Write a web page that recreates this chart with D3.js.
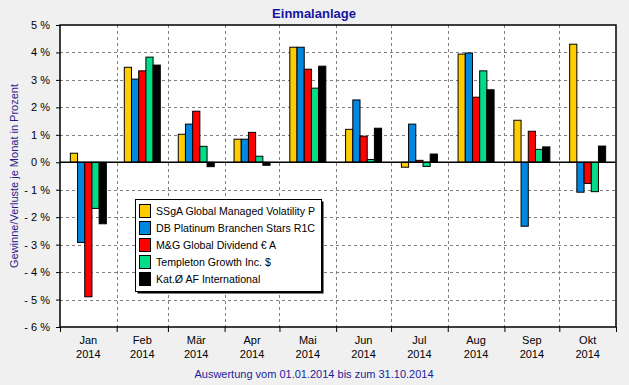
<!DOCTYPE html>
<html><head><meta charset="utf-8">
<script src="https://cdn.jsdelivr.net/npm/d3@7"></script>
<style>body{margin:0;background:#f0f0f0;}svg{display:block;font-family:"Liberation Sans",Arial,sans-serif;}</style>
</head><body>
<script>
const months = ["Jan","Feb","Mär","Apr","Mai","Jun","Jul","Aug","Sep","Okt"];
const monthStarts = ["2014-01-01","2014-02-01","2014-03-01","2014-04-01","2014-05-01","2014-06-01","2014-07-01","2014-08-01","2014-09-01","2014-10-01","2014-11-01"];
const seriesNames = ["SSgA Global Managed Volatility P","DB Platinum Branchen Stars R1C","M&G Global Dividend € A","Templeton Growth Inc. $","Kat.Ø AF International"];
const seriesColors = ["#ffcc00","#0088e0","#ff0000","#00dd88","#000000"];
const ssga      = [0.33, 3.46, 1.02, 0.84, 4.19, 1.20, -0.18, 3.94, 1.53, 4.30];
const dbPlat    = [-2.92, 3.03, 1.39, 0.84, 4.19, 2.27, 1.39, 3.98, -2.33, -1.09];
const mgDiv     = [-4.90, 3.33, 1.86, 1.09, 3.39, 0.95, 0.07, 2.37, 1.13, -0.77];
const templeton = [-1.68, 3.83, 0.58, 0.22, 2.70, 0.10, -0.15, 3.33, 0.47, -1.07];
const katAF     = [-2.24, 3.54, -0.16, -0.11, 3.50, 1.24, 0.30, 2.64, 0.56, 0.59];
const seriesValues = [ssga, dbPlat, mgDiv, templeton, katAF];
const yTicks = [5,4,3,2,1,0,-1,-2,-3,-4,-5,-6];

const W = 629, H = 385;
const L = 60, R = 616, T = 25, B = 327;
const svg = d3.select("body").append("svg").attr("width", W).attr("height", H);
const parse = d3.utcParse("%Y-%m-%d");
const dates = monthStarts.map(parse);
const x = d3.scaleUtc().domain([dates[0], dates[dates.length-1]]).range([L, R]);
const y = d3.scaleLinear().domain([-6, 5]).range([B, T]);

svg.append("rect").attr("x", L).attr("y", T).attr("width", R-L).attr("height", B-T).attr("fill", "#fff");

// grid
const g = svg.append("g");
g.selectAll(".hg").data(yTicks.filter(d => d !== 0 && d !== 5 && d !== -6)).enter().append("line")
  .attr("x1", L).attr("x2", R).attr("y1", d => Math.round(y(d))+0.5).attr("y2", d => Math.round(y(d))+0.5)
  .attr("stroke", "#808080").attr("stroke-dasharray", "3,3");
g.selectAll(".vg").data(dates.slice(1, -1)).enter().append("line")
  .attr("x1", d => Math.round(x(d))+0.5).attr("x2", d => Math.round(x(d))+0.5).attr("y1", T).attr("y2", B)
  .attr("stroke", "#808080").attr("stroke-dasharray", "3,3");

// bars
const barW = 7.2;
const n = seriesValues.length;
seriesValues.forEach((vals, si) => {
  svg.append("g").selectAll("rect").data(vals).enter().append("rect")
    .attr("x", (d, i) => {
      const c = (x(dates[i]) + x(dates[i+1])) / 2;
      return c - n*barW/2 + si*barW;
    })
    .attr("width", barW)
    .attr("y", d => y(Math.max(0, d)))
    .attr("height", d => Math.abs(y(d) - y(0)))
    .attr("fill", seriesColors[si]).attr("stroke", "#000").attr("stroke-width", 1);
});

// zero line
svg.append("line").attr("x1", L).attr("x2", R).attr("y1", y(0)).attr("y2", y(0)).attr("stroke", "#000").attr("stroke-width", 1.5);

// frame
svg.append("rect").attr("x", L).attr("y", T).attr("width", R-L).attr("height", B-T)
  .attr("fill", "none").attr("stroke", "#000").attr("stroke-width", 1.5);

// y axis
const yAxis = d3.axisLeft(y).tickValues(yTicks).tickSize(4).tickPadding(6)
  .tickFormat(d => (d < 0 ? "- " + Math.abs(d) : d) + " %");
const ya = svg.append("g").attr("transform", `translate(${L},0)`).call(yAxis);
ya.select(".domain").remove();
ya.selectAll("text").attr("font-size", 11).attr("fill", "#000").attr("font-family", "Liberation Sans, Arial, sans-serif");

// x axis
const xAxis = d3.axisBottom(x).tickValues(dates).tickSize(5).tickFormat("");
const xa = svg.append("g").attr("transform", `translate(0,${B})`).call(xAxis);
xa.select(".domain").remove();
const ml = svg.append("g");
months.forEach((m, i) => {
  const c = (x(dates[i]) + x(dates[i+1])) / 2;
  const t = ml.append("text").attr("x", c).attr("text-anchor", "middle").attr("font-size", 11).attr("fill", "#000");
  t.append("tspan").attr("x", c).attr("y", 344).text(m);
  t.append("tspan").attr("x", c).attr("y", 358).text("2014");
});

// titles
svg.append("text").attr("x", 314).attr("y", 18).attr("text-anchor", "middle")
  .attr("font-size", 13).attr("font-weight", "bold").attr("fill", "#1414a0").text("Einmalanlage");
svg.append("text").attr("x", 314).attr("y", 378).attr("text-anchor", "middle")
  .attr("font-size", 11).attr("fill", "#1c1c9c").text("Auswertung vom 01.01.2014 bis zum 31.10.2014");
svg.append("text").attr("transform", "translate(18,176) rotate(-90)").attr("text-anchor", "middle")
  .attr("font-size", 11).attr("fill", "#2a1a8c").text("Gewinne/Verluste je Monat in Prozent");

// legend
const lx = 135.5, ly = 199.5, lw = 186, lh = 92;
svg.append("rect").attr("x", lx+2).attr("y", ly+2).attr("width", lw).attr("height", lh).attr("fill", "#000");
svg.append("rect").attr("x", lx).attr("y", ly).attr("width", lw).attr("height", lh).attr("fill", "#fff").attr("stroke", "#000").attr("stroke-width", 1);
seriesNames.forEach((s, i) => {
  const cy = 210.5 + i*17;
  svg.append("rect").attr("x", 139.5).attr("y", cy-6).attr("width", 11).attr("height", 13)
    .attr("fill", seriesColors[i]).attr("stroke", "#000");
  svg.append("text").attr("x", 156).attr("y", cy+4).attr("font-size", 10.6).attr("fill", "#000").text(s);
});
</script>
</body></html>
